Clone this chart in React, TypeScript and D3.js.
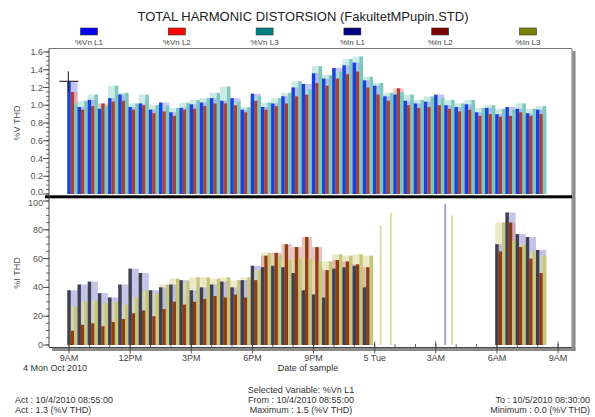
import * as d3 from "d3";

// sample schedule: one record every 30 min from 10/4/2010 08:55
const START = new Date(2010, 9, 4, 8, 55);
const STEP_MIN = 30;
const sampleTimes = d3.range(47).map((i) => d3.timeMinute.offset(START, STEP_MIN * i));

// %V THD (top panel)
const vnL1 = [1.27, 0.98, 1.06, 0.96, 1.08, 1.12, 0.98, 1.02, 0.95, 1.03, 0.92, 0.97, 1.01, 1.03, 1.08, 1.05, 1.08, 0.95, 1.13, 0.98, 1.02, 1.1, 1.2, 1.24, 1.36, 1.3, 1.42, 1.45, 1.48, 1.28, 1.22, 1.1, 1.12, 1.05, 1.02, 1.04, 1.12, 1.0, 0.98, 1.01, 0.92, 0.97, 0.9, 0.98, 0.96, 0.91, 0.95];
const vnL2 = [1.15, 0.95, 0.99, 1.02, 1.04, 1.05, 0.95, 1.0, 0.91, 0.93, 0.88, 0.95, 0.96, 0.99, 1.02, 1.02, 1.0, 0.92, 1.05, 0.95, 0.99, 1.02, 1.1, 1.12, 1.25, 1.22, 1.3, 1.35, 1.38, 1.2, 1.12, 1.05, 1.19, 1.0, 0.97, 0.98, 1.0, 0.96, 0.93, 0.95, 0.88, 0.9, 0.87, 0.88, 0.92, 0.88, 0.9];
const vnL3 = [1.02, 1.05, 1.12, 0.99, 1.22, 1.14, 1.02, 1.12, 1.0, 0.99, 0.97, 1.03, 1.06, 1.08, 1.14, 1.21, 1.04, 0.98, 1.1, 1.03, 1.08, 1.14, 1.27, 1.18, 1.44, 1.34, 1.38, 1.52, 1.55, 1.32, 1.25, 1.14, 1.15, 1.12, 1.06, 1.1, 1.08, 1.06, 1.02, 1.06, 0.97, 1.0, 0.96, 0.95, 1.02, 0.96, 0.99];

// %I THD (bottom panel), null = no record
const inL1 = [38, 42, 44, 36, 33, 42, 53, 50, 38, 40, 42, 45, 38, 40, 42, 44, 40, 45, 55, 54, 55, 54, 50, 38, 35, 33, 53, 54, 55, 40, null, null, null, null, null, null, null, 98, null, null, null, null, 70, 92, 77, 75, 66];
const inL2 = [10, 14, 15, 13, 16, 18, 22, 24, 20, 25, 30, 28, 30, 32, 34, 33, 35, 33, 45, 62, 64, 70, 68, 75, 68, 52, 59, 58, 56, 54, null, null, null, null, null, null, null, null, null, null, null, null, 65, 85, 68, 60, 50];
const inL3 = [27, 30, 31, 29, 30, 28, 33, 38, 36, 42, 46, 44, 47, 47, 46, 47, 45, 47, 52, 64, 62, 59, 60, 60, 58, 58, 63, 62, 63, 62, 83, 92, null, null, null, null, null, 90, null, null, null, null, 85, 72, 70, 65, 62];

const legendLabels = ["%Vn L1", "%Vn L2", "%Vn L3", "%In L1", "%In L2", "%In L3"];
const legendColors = ["#0000ff", "#ff0000", "#008080", "#000080", "#800000", "#808000"];
const xTickLabels = ["9AM", "12PM", "3PM", "6PM", "9PM", "5 Tue", "3AM", "6AM", "9AM"];

const TITLE = "TOTAL HARMONIC DISTORSION (FakultetMPupin.STD)";
const footLeft = ["Act : 10/4/2010 08:55:00", "Act : 1.3 (%V THD)"];
const footMid = ["Selected Variable: %Vn L1", "From : 10/4/2010 08:55:00", "Maximum : 1.5 (%V THD)"];
const footRight = ["To : 10/5/2010 08:30:00", "Minimum : 0.0 (%V THD)"];

const FONT = "'Liberation Sans', Arial, sans-serif";

type Series = { values: (number | null)[]; solid: string; light: string };

const topSeries: Series[] = [
  { values: vnL1, solid: "#1644d8", light: "#9b9df2" },
  { values: vnL2, solid: "#a5423b", light: "#f29a93" },
  { values: vnL3, solid: "#7cc8bd", light: "#a8dbd3" },
];
const botSeries: Series[] = [
  { values: inL1, solid: "#3f4150", light: "#9c9cd8" },
  { values: inL2, solid: "#8e3d10", light: "#d99a94" },
  { values: inL3, solid: "#c6c67c", light: "#dedca4" },
];

function Bars({ series, x, y }: { series: Series[]; x: any; y: any }) {
  const inner = d3.scaleBand<number>().domain([0, 1, 2]).paddingInner(0).paddingOuter(0);
  const out: any[] = [];
  sampleTimes.forEach((t, i) => {
    const x0 = x(t);
    const x1 = x(d3.timeMinute.offset(t, STEP_MIN));
    inner.range([x0, x1]);
    const vals = series.map((s, k) => ({ k, v: s.values[i] }));
    const present = vals.filter((d) => d.v != null) as { k: number; v: number }[];
    const complete = present.length === series.length;
    if (complete) {
      [...present]
        .sort((a, b) => b.v - a.v)
        .forEach((d) =>
          out.push(
            <rect
              key={`e${i}-${d.k}`}
              x={x0}
              width={x1 - x0}
              y={y(d.v)}
              height={y(0) - y(d.v)}
              fill={series[d.k].light}
              fillOpacity={0.6}
            />
          )
        );
    }
    // isolated records show as thin spikes
    present.forEach((d) =>
      out.push(
        <rect
          key={`b${i}-${d.k}`}
          x={inner(d.k)}
          width={complete ? inner.bandwidth() : 1.8}
          y={y(d.v)}
          height={y(0) - y(d.v)}
          fill={complete ? series[d.k].solid : series[d.k].light}
        />
      )
    );
  });
  return <g>{out}</g>;
}

function YAxis({ y, major, minor, fmt, left, dy }: { y: any; major: number[]; minor: number[]; fmt: (v: number) => string; left: number; dy: (v: number) => number }) {
  return (
    <g>
      {minor.map((v) => (
        <line key={`m${v}`} x1={left - 3} x2={left} y1={y(v)} y2={y(v)} stroke="#444" strokeWidth={0.8} />
      ))}
      {major.map((v) => (
        <g key={`M${v}`}>
          <line x1={left - 6} x2={left} y1={y(v)} y2={y(v)} stroke="#444" strokeWidth={0.9} />
          <text x={left - 6} y={y(v) + dy(v)} textAnchor="end" fontSize={9} fill="#555" fontFamily={FONT}>
            {fmt(v)}
          </text>
        </g>
      ))}
    </g>
  );
}

export default function App() {
  const L = 49;
  const R = 572;
  const x = d3
    .scaleTime()
    .domain([new Date(2010, 9, 4, 8, 1), new Date(2010, 9, 5, 9, 41)])
    .range([L, R]);
  const yV = d3.scaleLinear().domain([0, 1.6]).range([194, 52]);
  const yI = d3.scaleLinear().domain([0, 100]).range([345, 201]);
  const legendX = d3.scalePoint<string>().domain(legendLabels).range([89, 528]);

  const majorT = x.ticks(d3.timeHour.every(3) as any);
  const minorT = x.ticks(d3.timeHour.every(1) as any);
  const axisY = 347.5;

  const cursorX = x(sampleTimes[0]);
  const cursorY = yV(vnL1[0]);

  return (
    <svg width={595} height={417} style={{ position: "absolute", left: 0, top: 0, background: "#fff" }}>
      <text x={303} y={21} textAnchor="middle" fontSize={13} fill="#222" fontFamily={FONT}>
        {TITLE}
      </text>

      {legendLabels.map((lab, i) => (
        <g key={lab}>
          <rect x={legendX(lab)! - 8.5} y={28} width={17} height={7} fill={legendColors[i]} stroke="#333" strokeWidth={0.6} />
          <text x={legendX(lab)} y={45} textAnchor="middle" fontSize={8} fill="#444" fontFamily={FONT}>
            {lab}
          </text>
        </g>
      ))}

      {/* panel shadow */}
      <rect x={R + 0.5} y={51} width={3} height={300} fill="#8a8a8a" />
      <rect x={52} y={axisY + 0.5} width={R - 52 + 3.5} height={3} fill="#8a8a8a" />
      <line x1={L} x2={R} y1={48.5} y2={48.5} stroke="#777" strokeWidth={1} />
      <line x1={R} x2={R} y1={48.5} y2={axisY} stroke="#777" strokeWidth={1} />

      <Bars series={topSeries} x={x} y={yV} />
      <Bars series={botSeries} x={x} y={yI} />

      {/* separator between panels */}
      <rect x={45} y={195.3} width={R - 45} height={3} fill="#000" />

      <line x1={L} x2={L} y1={48.5} y2={axisY} stroke="#444" strokeWidth={1} />
      <line x1={L} x2={R} y1={axisY} y2={axisY} stroke="#444" strokeWidth={1} />

      <YAxis y={yV} major={yV.ticks(8)} minor={yV.ticks(32)} fmt={d3.format(".1f")} left={L} dy={(v) => (v === 0 ? 1 : 3)} />
      <YAxis y={yI} major={yI.ticks(5)} minor={yI.ticks(20)} fmt={d3.format("d")} left={L} dy={(v) => (v === 100 ? 5 : 3)} />

      <text transform={`translate(20,123) rotate(-90)`} textAnchor="middle" fontSize={9} fill="#555" fontFamily={FONT}>
        %V THD
      </text>
      <text transform={`translate(20,273) rotate(-90)`} textAnchor="middle" fontSize={9} fill="#555" fontFamily={FONT}>
        %I THD
      </text>

      {minorT.map((t) => (
        <line key={`xm${+t}`} x1={x(t)} x2={x(t)} y1={axisY - 3.5} y2={axisY} stroke="#444" strokeWidth={0.8} />
      ))}
      {majorT.map((t, i) => (
        <g key={`xM${+t}`}>
          <line x1={x(t)} x2={x(t)} y1={axisY - 6} y2={axisY + 6} stroke="#444" strokeWidth={0.9} />
          <text x={x(t)} y={361} textAnchor="middle" fontSize={9} fill="#444" fontFamily={FONT}>
            {xTickLabels[i]}
          </text>
        </g>
      ))}
      <text x={55} y={371} textAnchor="middle" fontSize={9} fill="#333" fontFamily={FONT}>
        4 Mon Oct 2010
      </text>
      <text x={308} y={371} textAnchor="middle" fontSize={9} fill="#333" fontFamily={FONT}>
        Date of sample
      </text>

      {/* cursor */}
      <line x1={cursorX - 8} x2={cursorX + 11} y1={cursorY} y2={cursorY} stroke="#111" strokeWidth={1} />
      <line x1={cursorX + 1} x2={cursorX + 1} y1={cursorY - 10} y2={cursorY + 10} stroke="#111" strokeWidth={1} />

      {footMid.map((s, i) => (
        <text key={s} x={301} y={393 + i * 10} textAnchor="middle" fontSize={9} fill="#333" fontFamily={FONT}>
          {s}
        </text>
      ))}
      {footLeft.map((s, i) => (
        <text key={s} x={15} y={403 + i * 10} fontSize={9} fill="#333" fontFamily={FONT}>
          {s}
        </text>
      ))}
      {footRight.map((s, i) => (
        <text key={s} x={590} y={403 + i * 10} textAnchor="end" fontSize={9} fill="#333" fontFamily={FONT}>
          {s}
        </text>
      ))}
    </svg>
  );
}
